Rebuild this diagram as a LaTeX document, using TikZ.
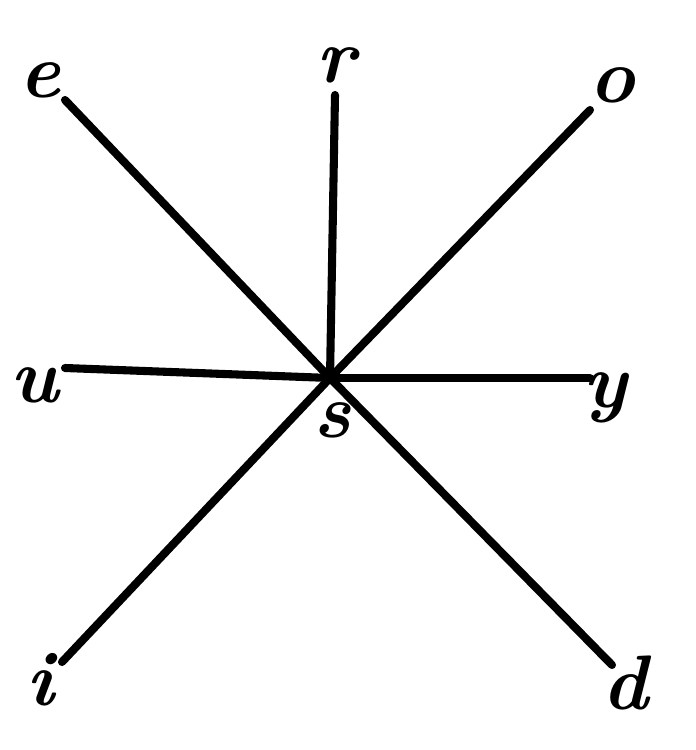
\documentclass[tikz,border=0pt]{standalone}
\usepackage{tikz}
\pgfdeclarelayer{edgelayer}
\pgfdeclarelayer{nodelayer}
\pgfsetlayers{edgelayer,nodelayer,main}
\tikzstyle{none}=[inner sep=0pt]
\tikzstyle{letter}=[inner sep=0pt, font=\fontsize{44}{52}\selectfont\bfseries\itshape]
\tikzstyle{ray}=[line width=4.6pt, line cap=round]
\begin{document}
\begin{tikzpicture}
	\useasboundingbox (0,0) rectangle (13.9,15);
	\begin{pgfonlayer}{nodelayer}
		\node [style=none] (0) at (6.6, 7.44) {};
		\node [style=none] (1) at (1.3, 13.0) {};
		\node [style=none] (2) at (6.7, 13.1) {};
		\node [style=none] (3) at (11.8, 12.8) {};
		\node [style=none] (4) at (1.3, 7.64) {};
		\node [style=none] (5) at (11.8, 7.44) {};
		\node [style=none] (6) at (1.24, 1.76) {};
		\node [style=none] (7) at (12.24, 1.7) {};
		\node [style=letter] (8) at (0.8, 13.4) {e};
		\node [style=letter] (9) at (6.72, 13.7) {r};
		\node [style=letter] (10) at (12.24, 13.3) {o};
		\node [style=letter] (11) at (0.7, 7.3) {u};
		\node [style=letter] (12) at (12.1, 7.04) {y};
		\node [style=letter] (13) at (6.64, 6.6) {s};
		\node [style=letter] (14) at (0.8, 1.4) {i};
		\node [style=letter] (15) at (12.5, 1.34) {d};
	\end{pgfonlayer}
	\begin{pgfonlayer}{edgelayer}
		\draw [style=ray] (0.center) to (1.center);
		\draw [style=ray] (0.center) to (2.center);
		\draw [style=ray] (0.center) to (3.center);
		\draw [style=ray] (0.center) to (4.center);
		\draw [style=ray] (0.center) to (5.center);
		\draw [style=ray] (0.center) to (6.center);
		\draw [style=ray] (0.center) to (7.center);
	\end{pgfonlayer}
\end{tikzpicture}
\end{document}
